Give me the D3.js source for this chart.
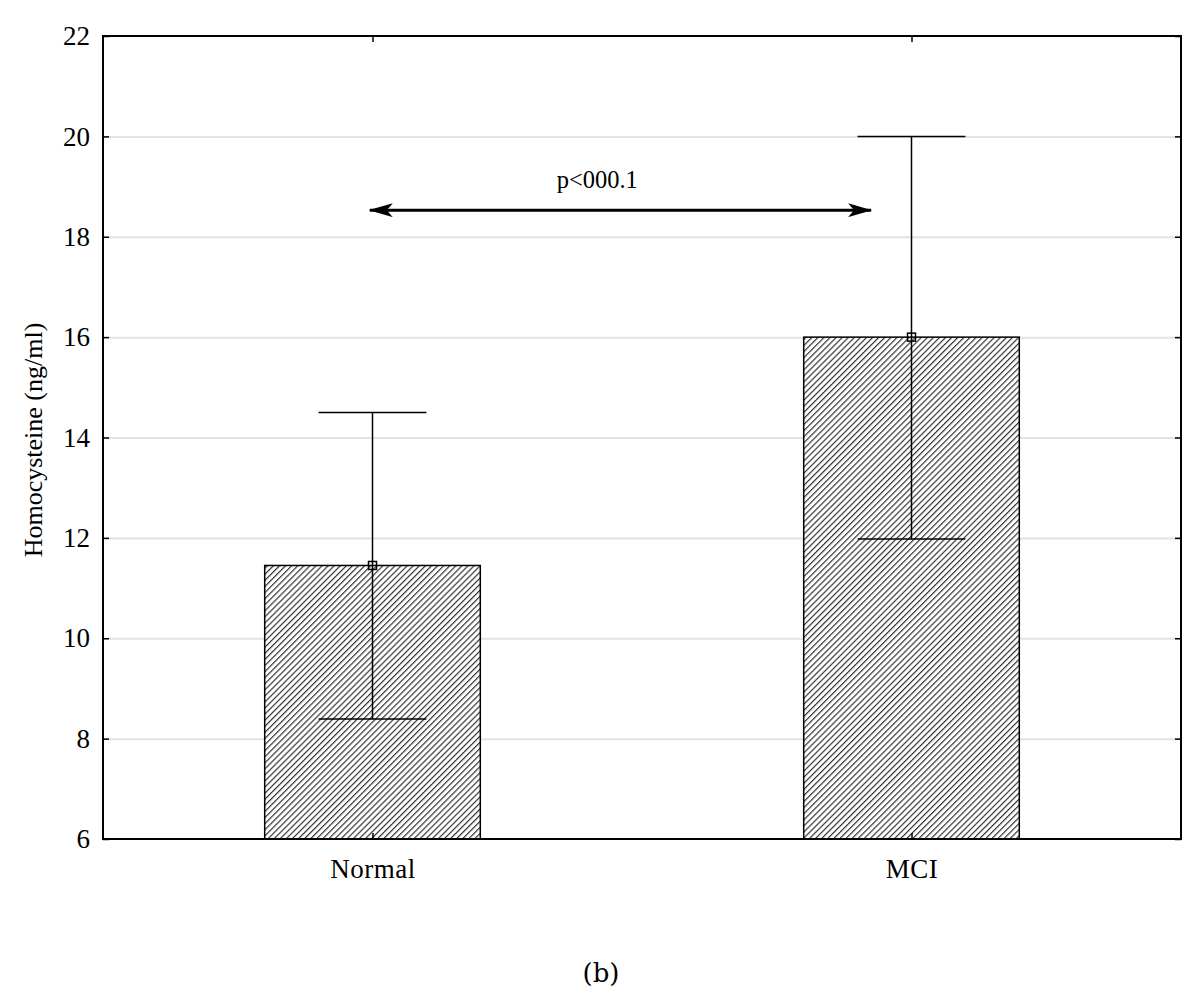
<!DOCTYPE html>
<meta charset='utf-8'>
<style>
body { margin: 0; background: #fff; }
svg text { font-family: 'Liberation Serif', 'DejaVu Serif', serif; fill: #000; }
.grid line { stroke: #e2e2e2; stroke-width: 2px; }
.grid .domain { stroke: none; }
.bar { fill: url(#hatch); stroke: #000; stroke-width: 1.5px; }
.err { stroke: #000; stroke-width: 1.5px; fill: none; }
.frame { fill: none; stroke: #000; stroke-width: 2px; }
</style>
<body>
<script src='https://cdnjs.cloudflare.com/ajax/libs/d3/7.8.5/d3.min.js'></script>
<script>
'use strict'

// Data
let categories = ['Normal', 'MCI'],
	means = [11.45, 16.0],
	err_low = [8.39, 11.98],
	err_high = [14.5, 20.0],
	y_ticks = [6, 8, 10, 12, 14, 16, 18, 20, 22],
	sig_label = 'p<000.1',
	sig_level = 18.53,
	sig_from = 0.495, sig_to = 1.425, // in category-unit coordinates
	sig_label_at = 0.917

let
	margin = {top: 36, right: 22, bottom: 156, left: 103},
	W = 1203, H = 995,
	width = W - margin.left - margin.right,
	height = H - margin.top - margin.bottom,
	x = d3.scaleLinear().domain([0, categories.length]).range([0, width]),
	y = d3.scaleLinear().domain([6, 22]).range([height, 0]),
	bar_w = 0.4, cap_w = 0.2

let svg = d3.select('body').append('svg').attr('width', W).attr('height', H)

svg.append('defs').append('pattern')
	.attr('id', 'hatch').attr('patternUnits', 'userSpaceOnUse')
	.attr('width', 4.3).attr('height', 4.3)
	.attr('patternTransform', 'rotate(45)')
	.call(p => {
		p.append('rect').attr('width', 4.3).attr('height', 4.3).attr('fill', '#fff')
		p.append('line').attr('x1', 0.6).attr('y1', 0).attr('x2', 0.6).attr('y2', 4.3)
			.attr('stroke', '#222').attr('stroke-width', 1.1) })

let vis = svg.append('g').attr('transform', `translate(${margin.left},${margin.top})`)

// grid
vis.append('g').attr('class', 'grid')
	.call(d3.axisLeft(y).tickValues(y_ticks.slice(1, -1)).tickSize(-width).tickFormat(''))

// bars
vis.selectAll('.bar').data(categories).enter().append('rect')
	.attr('class', 'bar')
	.attr('x', (d, i) => x(i + 0.5 - bar_w / 2))
	.attr('width', x(bar_w) - x(0))
	.attr('y', (d, i) => y(means[i]))
	.attr('height', (d, i) => y(6) - y(means[i]))

// error bars
let eb = vis.selectAll('.eb').data(categories).enter().append('g').attr('class', 'err')
eb.append('line')
	.attr('x1', (d, i) => x(i + 0.5)).attr('x2', (d, i) => x(i + 0.5))
	.attr('y1', (d, i) => y(err_low[i])).attr('y2', (d, i) => y(err_high[i]))
;[err_low, err_high].forEach(arr => eb.append('line')
	.attr('x1', (d, i) => x(i + 0.5 - cap_w / 2)).attr('x2', (d, i) => x(i + 0.5 + cap_w / 2))
	.attr('y1', (d, i) => y(arr[i])).attr('y2', (d, i) => y(arr[i])))
eb.append('rect')
	.attr('x', (d, i) => x(i + 0.5) - 4).attr('y', (d, i) => y(means[i]) - 4)
	.attr('width', 8).attr('height', 8).attr('fill', 'none')

// frame
vis.append('rect').attr('class', 'frame').attr('width', width).attr('height', height)

// axes
let yl = vis.append('g').call(d3.axisLeft(y).tickValues(y_ticks).tickSize(-6).tickPadding(13))
let yr = vis.append('g').attr('transform', `translate(${width},0)`)
	.call(d3.axisRight(y).tickValues(y_ticks).tickSize(-6).tickFormat(''))
let xb = vis.append('g').attr('transform', `translate(0,${height})`)
	.call(d3.axisBottom(x).tickValues(categories.map((d, i) => i + 0.5))
		.tickSize(-6).tickPadding(20).tickFormat((d, i) => categories[i]))
let xt = vis.append('g')
	.call(d3.axisTop(x).tickValues(categories.map((d, i) => i + 0.5)).tickSize(-6).tickFormat(''))
;[yl, yr, xb, xt].forEach(g => {
	g.select('.domain').remove()
	g.selectAll('.tick line').attr('stroke', '#000').attr('stroke-width', 1.5)
	g.selectAll('text').style('font-size', '27px').attr('fill', '#000') })
xb.selectAll('text').style('letter-spacing', '0.5px')

// y label
svg.append('text')
	.attr('transform', `translate(42,440) rotate(-90)`)
	.attr('text-anchor', 'middle').style('font-size', '26px')
	.text('Homocysteine (ng/ml)')

// significance arrow
svg.append('defs').call(d => {
	['start', 'end'].forEach(k => d.append('marker')
		.attr('id', 'ah-' + k).attr('viewBox', '0 -7 24 14')
		.attr('refX', 23).attr('refY', 0)
		.attr('markerWidth', 24).attr('markerHeight', 14)
		.attr('markerUnits', 'userSpaceOnUse')
		.attr('orient', k == 'start' ? 'auto-start-reverse' : 'auto')
		.append('path').attr('d', 'M0,-7 L24,0 L0,7 L6,0 Z').attr('fill', '#000'))
})
vis.append('line')
	.attr('x1', x(sig_from)).attr('x2', x(sig_to))
	.attr('y1', y(sig_level)).attr('y2', y(sig_level))
	.attr('stroke', '#000').attr('stroke-width', 3)
	.attr('marker-start', 'url(#ah-start)').attr('marker-end', 'url(#ah-end)')
vis.append('text')
	.attr('x', x(sig_label_at)).attr('y', y(sig_level) - 22)
	.attr('text-anchor', 'middle').style('font-size', '24.5px')
	.text(sig_label)

// panel caption
svg.append('text')
	.attr('x', 601).attr('y', 982).attr('text-anchor', 'middle')
	.style('font-size', '26px').style('font-family', "'DejaVu Serif', serif")
	.text('(b)')
</script>
</body>
